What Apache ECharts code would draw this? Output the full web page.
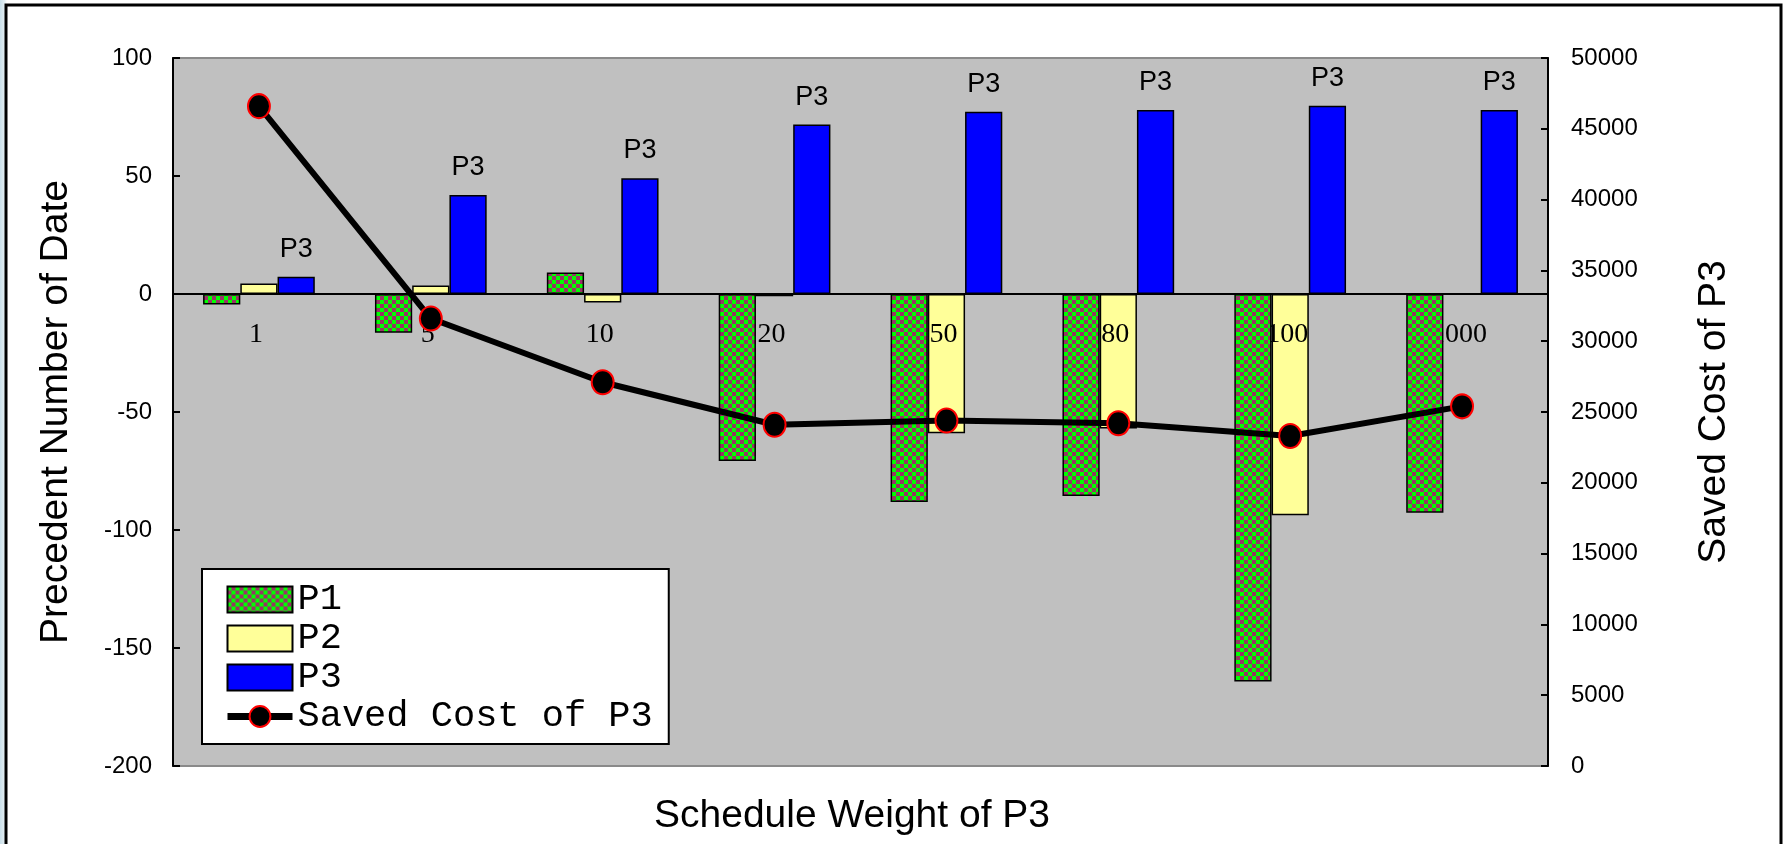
<!DOCTYPE html>
<html>
<head>
<meta charset="utf-8">
<script src="https://cdn.jsdelivr.net/npm/echarts@6/dist/echarts.min.js"></script>
<style>
  html, body { margin: 0; padding: 0; background: #fff; }
  body { background: linear-gradient(to right, #c9dfe9 0px, #e6f0f4 5px, #fff 7px); }
  #main { width: 1787px; height: 844px; }
</style>
</head>
<body>
<div id="main"></div>
<script>
  // schedule weight of P3
  const categories = ['1', '5', '10', '20', '50', '80', '100', '1000'];
  // precedent number of date
  const p1 = [-4.5, -16.4, 9.1, -70.8, -88.1, -85.6, -164.2, -92.7];
  const p2 = [4.4, 3.6, -3.6, -1, -59, -57, -93.7, 0];
  const p3 = [7.3, 42, 49, 71.8, 77.2, 78, 79.8, 78];
  // saved cost of P3
  const savedCost = [46600, 31600, 27100, 24100, 24400, 24200, 23300, 25400];

  const leftAxisRange = [-200, 100, 50];
  const rightAxisRange = [0, 50000, 5000];

  function checker() {
    let c = document.createElement('canvas');
    c.width = 8;
    c.height = 8;
    let g = c.getContext('2d');
    g.fillStyle = '#993366';
    g.fillRect(0, 0, 8, 8);
    g.fillStyle = '#00ff00';
    g.fillRect(0, 0, 4, 4);
    g.fillRect(4, 4, 4, 4);
    return c;
  }

  let myechart = echarts.init(document.getElementById('main'));
  const sans = 'Liberation Sans, Arial, sans-serif';
  const gridTop = 58, gridBottom = 78, chartH = 844;
  // the category axis sits on the zero of the left axis
  const plotH = chartH - gridTop - gridBottom;
  const zeroShift = plotH * (0 - leftAxisRange[0]) / (leftAxisRange[1] - leftAxisRange[0]);

  let option = {
    animation: false,
    grid: {
      left: 173, right: 239, top: gridTop, bottom: gridBottom,
      show: true,
      backgroundColor: '#c0c0c0',
      borderColor: '#8a8a8a',
      borderWidth: 2
    },
    legend: {
      orient: 'vertical',
      left: 202,
      top: 569,
      data: [
        { name: 'P1', icon: 'rect' },
        { name: 'P2', icon: 'rect' },
        { name: 'P3', icon: 'rect' },
        { name: 'Saved Cost of P3', lineStyle: { width: 7, color: '#000' } }
      ],
      itemWidth: 65,
      itemHeight: 26,
      itemGap: 2,
      padding: [12, 16, 9, 22],
      backgroundColor: '#fff',
      borderColor: '#000',
      borderWidth: 2,
      textStyle: {
        fontFamily: 'Liberation Mono, monospace',
        fontSize: 37,
        color: '#000'
      }
    },
    xAxis: [{
      type: 'category',
      data: categories,
      position: 'bottom',
      offset: -zeroShift,
      z: 2,
      axisLine: { onZero: false, lineStyle: { color: '#000', width: 2 } },
      axisTick: { inside: true, length: 7, lineStyle: { color: '#000', width: 2 } },
      axisLabel: {
        margin: 27,
        padding: [0, 6, 0, 0],
        fontFamily: 'Liberation Serif, serif',
        fontSize: 28,
        color: '#000'
      },
      splitLine: { show: false }
    }],
    yAxis: [{
      type: 'value',
      min: leftAxisRange[0],
      max: leftAxisRange[1],
      interval: leftAxisRange[2],
      name: 'Precedent Number of Date',
      nameLocation: 'middle',
      nameRotate: 90,
      nameGap: 97,
      nameTextStyle: { fontFamily: sans, fontSize: 39, color: '#000' },
      axisLine: { show: true, onZero: false, lineStyle: { color: '#000', width: 2 } },
      axisTick: { show: true, inside: true, length: 7, lineStyle: { color: '#000', width: 2 } },
      axisLabel: { margin: 21, fontFamily: sans, fontSize: 24, color: '#000' },
      splitLine: { show: false }
    }, {
      type: 'value',
      position: 'right',
      min: rightAxisRange[0],
      max: rightAxisRange[1],
      interval: rightAxisRange[2],
      name: 'Saved Cost of P3',
      nameLocation: 'middle',
      nameRotate: 90,
      nameGap: 147,
      nameTextStyle: { fontFamily: sans, fontSize: 39, color: '#000' },
      axisLine: { show: true, onZero: false, lineStyle: { color: '#000', width: 2 } },
      axisTick: { show: true, inside: true, length: 7, lineStyle: { color: '#000', width: 2 } },
      axisLabel: {
        margin: 23, fontFamily: sans, fontSize: 24, color: '#000',
        formatter: function (v) { return String(v); }
      },
      splitLine: { show: false }
    }],
    graphic: [{
      type: 'text',
      left: 860 - 206,
      top: 797,
      style: {
        text: 'Schedule Weight of P3',
        font: '39px Liberation Sans, Arial, sans-serif',
        fill: '#000'
      }
    }, {
      type: 'rect',
      z: 100,
      shape: { x: 6, y: 5, width: 1775, height: 900 },
      style: { fill: 'none', stroke: '#000', lineWidth: 3 }
    }],
    series: [{
      name: 'P1',
      type: 'bar',
      data: p1,
      z: 3,
      barGap: '0%',
      barCategoryGap: '35%',
      itemStyle: {
        color: { image: checker(), repeat: 'repeat' },
        borderColor: '#000',
        borderWidth: 1.5
      }
    }, {
      name: 'P2',
      type: 'bar',
      data: p2,
      z: 1,
      itemStyle: { color: '#ffff99', borderColor: '#000', borderWidth: 1.5 }
    }, {
      name: 'P3',
      type: 'bar',
      data: p3,
      z: 1,
      itemStyle: { color: '#0000ff', borderColor: '#000', borderWidth: 1.5 },
      label: {
        show: true,
        position: 'top',
        distance: 14,
        formatter: 'P3',
        fontFamily: sans,
        fontSize: 27,
        color: '#000'
      }
    }, {
      name: 'Saved Cost of P3',
      type: 'line',
      yAxisIndex: 1,
      data: savedCost,
      symbol: 'circle',
      symbolSize: [22, 24],
      lineStyle: { color: '#000', width: 6 },
      itemStyle: { color: '#000', borderColor: '#ff0000', borderWidth: 2 },
      z: 5
    }]
  };
  myechart.setOption(option);
</script>
</body>
</html>
